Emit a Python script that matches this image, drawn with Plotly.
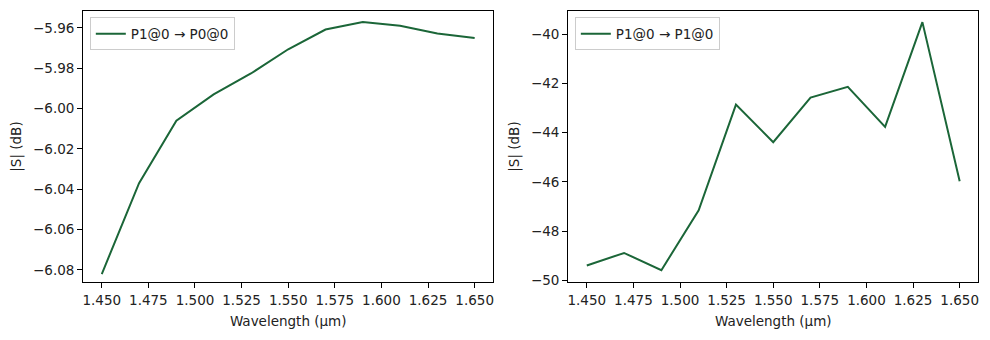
import plotly.graph_objects as go

# Wavelength sweep (µm)
wavelength = [1.45, 1.47, 1.49, 1.51, 1.53, 1.55, 1.57, 1.59, 1.61, 1.63, 1.65]

# Transmission P1@0 -> P0@0 (dB)
s_p1_p0 = [-6.082, -6.037, -6.006, -5.993, -5.9826, -5.9706, -5.9608,
           -5.9571, -5.9589, -5.9628, -5.965]

# Reflection P1@0 -> P1@0 (dB)
s_p1_p1 = [-49.40, -48.89, -49.59, -47.16, -42.86, -44.39, -42.58,
           -42.14, -43.77, -39.51, -45.98]

# Tick positions
x_ticks = [1.450, 1.475, 1.500, 1.525, 1.550, 1.575, 1.600, 1.625, 1.650]
y_ticks_left = [-6.08, -6.06, -6.04, -6.02, -6.00, -5.98, -5.96]
y_ticks_right = [-50, -48, -46, -44, -42, -40]

label_left = "P1@0 → P0@0"
label_right = "P1@0 → P1@0"

LINE = "#1b6638"
FONT = "DejaVu Sans, sans-serif"
W, H = 990, 340


def fmt(v, nd):
    s = f"{abs(v):.{nd}f}"
    return ("\u2212" + s) if v < 0 else s


def px_x(a, b):
    return [a / W, b / W]


def px_y(top, bottom):
    return [1 - bottom / H, 1 - top / H]


fig = go.Figure()
fig.add_trace(go.Scatter(x=wavelength, y=s_p1_p0, mode="lines", name=label_left,
                         line=dict(color=LINE, width=2), xaxis="x", yaxis="y",
                         legend="legend"))
fig.add_trace(go.Scatter(x=wavelength, y=s_p1_p1, mode="lines", name=label_right,
                         line=dict(color=LINE, width=2), xaxis="x2", yaxis="y2",
                         legend="legend2"))


def ax_common():
    return dict(showline=True, mirror=True, linecolor="black", linewidth=1,
                ticks="outside", ticklen=5, tickwidth=1, tickcolor="black",
                showgrid=False, zeroline=False, tickmode="array",
                tickfont=dict(family=FONT, size=13.5, color="#222"),
                title_font=dict(family=FONT, size=13.5, color="#222"))


ydom = px_y(10.7, 286.7)
xmin, xmax = 1.44, 1.66
x_text = [fmt(v, 3) for v in x_ticks]

fig.update_layout(
    width=W, height=H,
    margin=dict(l=0, r=0, t=0, b=0),
    paper_bgcolor="white", plot_bgcolor="white",
    font=dict(family=FONT, size=13.5, color="#222"),
    xaxis=dict(domain=px_x(82.3, 493.3), range=[xmin, xmax],
               tickvals=x_ticks, ticktext=x_text, anchor="y",
               title=dict(text="Wavelength (µm)", standoff=9), **ax_common()),
    yaxis=dict(domain=ydom, range=[-6.0862, -5.9514],
               tickvals=y_ticks_left, ticktext=[fmt(v, 2) for v in y_ticks_left],
               anchor="x",
               title=dict(text="|S| (dB)", standoff=8), **ax_common()),
    xaxis2=dict(domain=px_x(568.3, 979.3), range=[xmin, xmax],
                tickvals=x_ticks, ticktext=x_text, anchor="y2",
                title=dict(text="Wavelength (µm)", standoff=9), **ax_common()),
    yaxis2=dict(domain=ydom, range=[-50.09, -39.04],
                tickvals=y_ticks_right, ticktext=[fmt(v, 0) for v in y_ticks_right],
                anchor="x2",
                title=dict(text="|S| (dB)", standoff=8), **ax_common()),
    legend=dict(x=89 / W, y=1 - 17.7 / H, xanchor="left", yanchor="top",
                bgcolor="rgba(255,255,255,0.8)", bordercolor="#cccccc",
                borderwidth=1, font=dict(family=FONT, size=13.5, color="#222")),
    legend2=dict(x=575 / W, y=1 - 17.7 / H, xanchor="left", yanchor="top",
                 bgcolor="rgba(255,255,255,0.8)", bordercolor="#cccccc",
                 borderwidth=1, font=dict(family=FONT, size=13.5, color="#222")),
    showlegend=True,
)

fig.write_html("out.html")
